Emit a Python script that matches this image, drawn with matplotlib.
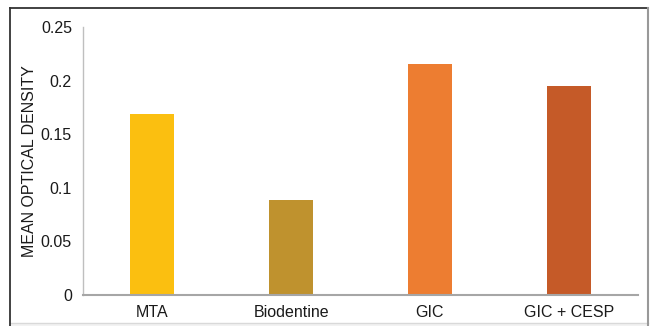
import matplotlib
matplotlib.use("Agg")
import matplotlib.pyplot as plt
from matplotlib.lines import Line2D
from matplotlib.patches import Rectangle

categories = ["MTA", "Biodentine", "GIC", "GIC + CESP"]
values = [0.169, 0.0885, 0.2155, 0.195]
colors = ["#FBBF10", "#BF922E", "#ED7D31", "#C55A28"]
yticks = [0, 0.05, 0.1, 0.15, 0.2, 0.25]
ytick_labels = ["0", "0.05", "0.1", "0.15", "0.2", "0.25"]

plt.rcParams['font.family'] = ['Liberation Sans', 'DejaVu Sans']

W, H = 651, 326
fig = plt.figure(figsize=(W/100, H/100), dpi=100)
ax = fig.add_axes([83/W, 31/H, (638-83)/W, (295-27)/H])

x = list(range(len(categories)))
ax.bar(x, values, width=0.317, color=colors)
ax.set_xlim(-0.5, len(categories) - 0.5)
ax.set_ylim(0, 0.25)
ax.set_yticks(yticks)
ax.set_yticklabels(ytick_labels)
ax.set_xticks(x)
ax.set_xticklabels(categories)
ax.tick_params(axis='both', length=0, labelsize=11.5, colors='#1a1a1a')
ax.tick_params(axis='y', pad=8)
ax.tick_params(axis='x', pad=7)
ax.set_ylabel("MEAN OPTICAL DENSITY", fontsize=11.5, color='#1a1a1a')
ax.yaxis.set_label_coords((37 - 83) / 555, 0.5)

for s in ['top', 'right']:
    ax.spines[s].set_visible(False)
ax.spines['left'].set_color('#BFBFBF')
ax.spines['bottom'].set_color('#A6A6A6')
ax.spines['left'].set_linewidth(1.0)
ax.spines['bottom'].set_linewidth(1.5)

def fx(px):
    return px / W

def fy(py):
    return 1 - py / H

fig.patches.append(Rectangle((fx(10), 0), fx(648) - fx(10), fy(323),
                             transform=fig.transFigure, facecolor='#F2F2F2',
                             edgecolor='none', zorder=-1))
fig.lines.append(Line2D([fx(10), fx(648)], [fy(323), fy(323)], transform=fig.transFigure,
                        color='#D9D9D9', linewidth=1.0))
fig.lines.append(Line2D([fx(10), fx(648)], [fy(8), fy(8)], transform=fig.transFigure,
                        color='#333333', linewidth=1.3))
fig.lines.append(Line2D([fx(10), fx(10)], [fy(8), 0], transform=fig.transFigure,
                        color='#333333', linewidth=1.3))
fig.lines.append(Line2D([fx(648), fx(648)], [fy(8), 0], transform=fig.transFigure,
                        color='#999999', linewidth=1.5))

fig.savefig("out.png", dpi=100)
